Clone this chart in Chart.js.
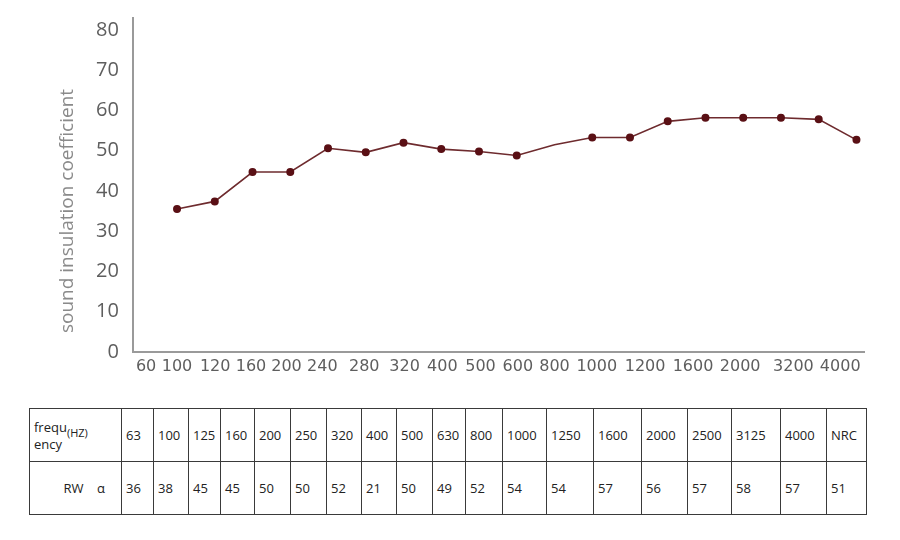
<!DOCTYPE html>
<html>
<head>
<meta charset="utf-8">
<script src="https://cdn.jsdelivr.net/npm/chart.js@4.4.1/dist/chart.umd.min.js"></script>
<style>
  html, body { margin: 0; padding: 0; background: #fff; }
  #wrap { position: relative; width: 900px; height: 379px; }
  table.rw {
    position: absolute; left: 29px; top: 408px;
    border-collapse: collapse; table-layout: fixed;
    font-family: "Open Sans", sans-serif; font-size: 13px; color: #222;
  }
  table.rw td {
    border: 1.5px solid #3a3a3a; padding: 0 0 0 4px; height: 52px;
    white-space: nowrap; overflow: hidden;
  }
  .hz { font-size: 11px; position: relative; top: 5px; }
</style>
</head>
<body>
<div id="wrap"><canvas id="rwChart" width="900" height="379"></canvas></div>
<table class="rw" id="rwTable"></table>
<script>
// values
const xTickLabels = ['60', '100', '120', '160', '200', '240', '280', '320', '400', '500', '600', '800', '1000', '1200', '1600', '2000', '3200', '4000'];
const xTickAt = [-0.82, 0, 1.01, 1.96, 2.9, 3.85, 4.96, 6.03, 7.03, 8.04, 9.03, 10, 11.12, 12.4, 13.67, 14.92, 16.33, 17.57];
const curve = [35.5, 37.4, 44.7, 44.7, 50.6, 49.6, 52.0, 50.4, 49.8, 48.8, 51.5, 53.3, 53.3, 57.3, 58.2, 58.2, 58.2, 57.8, 52.7];
const frequencies = ['63', '100', '125', '160', '200', '250', '320', '400', '500', '630', '800', '1000', '1250', '1600', '2000', '2500', '3125', '4000', 'NRC'];
const rwValues = [36, 38, 45, 45, 50, 50, 52, 21, 50, 49, 52, 54, 54, 57, 56, 57, 58, 57, 51];

// column widths of the table (layout only)
const colWidths = [92, 32, 35, 32, 34, 36, 36, 35, 35, 36, 33, 37, 44, 47, 48, 46, 44, 49, 46, 40];

// build the table
const tbl = document.getElementById('rwTable');
const cg = document.createElement('colgroup');
colWidths.forEach(w => {
    const c = document.createElement('col');
    c.style.width = w + 'px';
    cg.appendChild(c);
});
tbl.appendChild(cg);
const r1 = tbl.insertRow();
const r2 = tbl.insertRow();
const head1 = r1.insertCell();
head1.innerHTML = '<div style="line-height:16px">frequ<span class="hz">(HZ)</span><br>ency</div>';
const head2 = r2.insertCell();
head2.innerHTML = 'RW&nbsp;&nbsp;&nbsp;&nbsp;α';
head2.style.textAlign = 'right';
head2.style.paddingRight = '16px';
frequencies.forEach((f, i) => {
    r1.insertCell().textContent = f;
    r2.insertCell().textContent = rwValues[i];
});

// y-axis title drawn as text at its spot
const yTitle = {
    id: 'yTitle',
    afterDraw(chart) {
        const c = chart.ctx;
        c.save();
        c.translate(68, 211);
        c.rotate(-Math.PI / 2);
        c.font = '19px "Open Sans"';
        c.fillStyle = '#8a8a8a';
        c.textAlign = 'center';
        c.textBaseline = 'middle';
        c.fillText('sound insulation coefficient', 0, 0);
        c.restore();
    }
};

const hiddenMarker = 10; // the 800 point has no dot in the picture

new Chart(document.getElementById('rwChart'), {
    type: 'line',
    data: {
        datasets: [{
            data: curve.map((v, i) => ({ x: i, y: v })),
            borderColor: '#6e2b2e',
            borderWidth: 1.6,
            backgroundColor: '#5a1015',
            pointBackgroundColor: '#5a1015',
            pointBorderColor: '#5a1015',
            pointRadius: curve.map((v, i) => i === hiddenMarker ? 0 : 3.2),
            tension: 0,
            fill: false
        }]
    },
    options: {
        responsive: false,
        animation: false,
        layout: { padding: { left: 90, right: 36, top: 15, bottom: 6 } },
        plugins: { legend: { display: false }, tooltip: { enabled: false } },
        scales: {
            x: {
                type: 'linear',
                min: -1.17,
                max: 18.2,
                grid: { display: false },
                border: { display: true, color: '#9a9a9a', width: 2 },
                afterBuildTicks: s => { s.ticks = xTickAt.map(v => ({ value: v })); },
                ticks: {
                    autoSkip: false,
                    maxRotation: 0,
                    padding: -3,
                    color: '#5e5e5e',
                    font: { family: 'DejaVu Sans', size: 16 },
                    callback: (v, i) => xTickLabels[i]
                }
            },
            y: {
                min: 0,
                max: 83,
                grid: { display: false },
                border: { display: true, color: '#9a9a9a', width: 2 },
                ticks: {
                    stepSize: 10,
                    includeBounds: false,
                    padding: 6,
                    color: '#5e5e5e',
                    font: { family: 'Open Sans', size: 20 }
                }
            }
        }
    },
    plugins: [yTitle]
});
</script>
</body>
</html>
